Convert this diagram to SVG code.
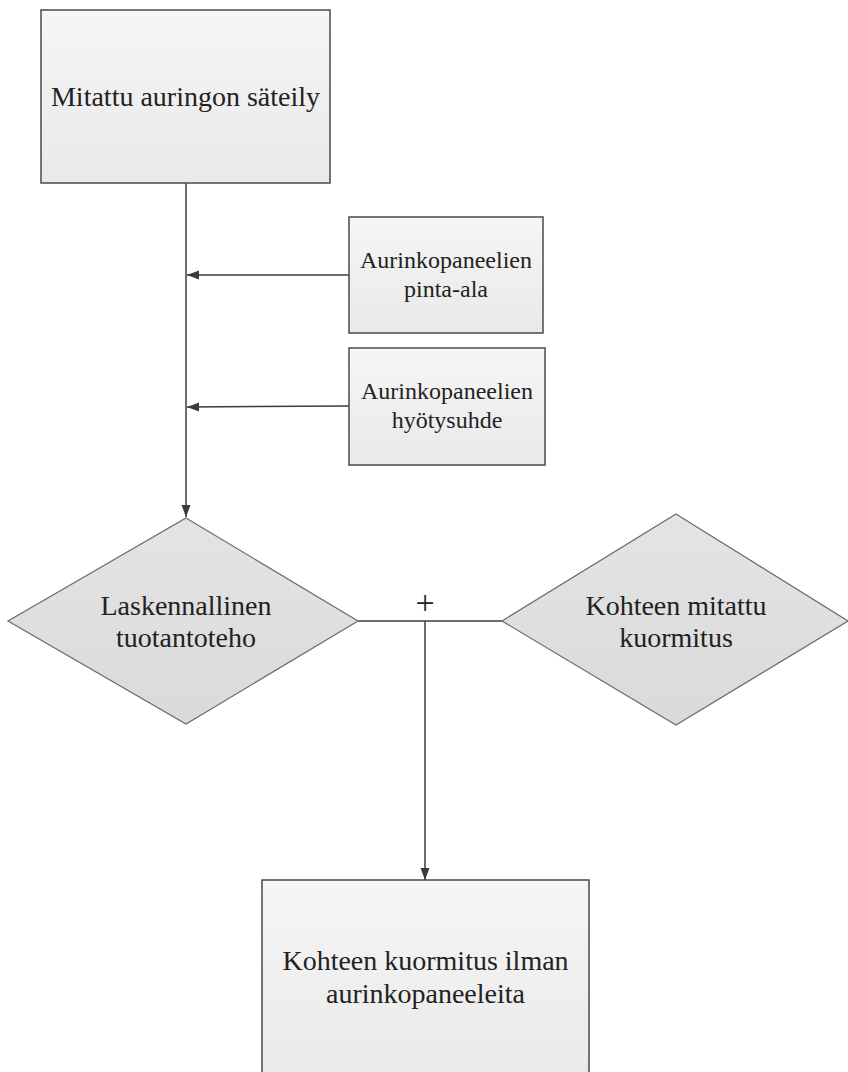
<svg xmlns="http://www.w3.org/2000/svg" width="848" height="1072" viewBox="0 0 848 1072">
<style>
.box{fill:url(#gbox);stroke:#4a4a4a;stroke-width:1.5}
.dia{fill:url(#gdia);stroke:#6a6a6a;stroke-width:1.2}
.t{font-family:"Liberation Serif","Times New Roman",serif;fill:#222;text-anchor:middle}
.conn{stroke:#3c3c3c;stroke-width:1.5;fill:none}
</style>
<defs>
<linearGradient id="gbox" x1="0" y1="0" x2="0" y2="1"><stop offset="0" stop-color="#f6f6f6"/><stop offset="1" stop-color="#e9e9e9"/></linearGradient>
<linearGradient id="gdia" x1="0" y1="0" x2="0" y2="1"><stop offset="0" stop-color="#e4e4e4"/><stop offset="1" stop-color="#dadada"/></linearGradient>
<marker id="arr" viewBox="0 0 12 10" refX="12" refY="5" markerWidth="12" markerHeight="10" markerUnits="userSpaceOnUse" orient="auto"><path d="M0,0.5 L12,5 L0,9.5 Z" fill="#3c3c3c"/></marker>
</defs>
<g id="connectors">
<line class="conn" x1="186" y1="183" x2="186" y2="517" marker-end="url(#arr)"/>
<line class="conn" x1="349" y1="275" x2="187" y2="275" marker-end="url(#arr)"/>
<line class="conn" x1="349" y1="406" x2="187" y2="407" marker-end="url(#arr)"/>
<line class="conn" x1="358" y1="621" x2="502" y2="621"/>
<line class="conn" x1="425" y1="621" x2="425" y2="880" marker-end="url(#arr)"/>
<text class="t" x="425" y="614" font-size="34">+</text>
</g>
<g id="n-saiteily">
<rect class="box" x="41" y="10" width="289" height="173"/>
<text class="t" x="185.5" y="106" font-size="28">Mitattu auringon säteily</text>
</g>
<g id="n-pinta-ala">
<rect class="box" x="349" y="217" width="194" height="116"/>
<text class="t" x="446" y="268" font-size="24">Aurinkopaneelien</text>
<text class="t" x="446" y="297" font-size="24">pinta-ala</text>
</g>
<g id="n-hyotysuhde">
<rect class="box" x="349" y="348" width="196" height="117"/>
<text class="t" x="447" y="399" font-size="24">Aurinkopaneelien</text>
<text class="t" x="447" y="428" font-size="24">hyötysuhde</text>
</g>
<g id="n-laskennallinen">
<polygon class="dia" points="186,518 358,621 186,724 8,621"/>
<text class="t" x="186" y="615" font-size="28">Laskennallinen</text>
<text class="t" x="186" y="647" font-size="28">tuotantoteho</text>
</g>
<g id="n-mitattu-kuormitus">
<polygon class="dia" points="676,514 848,621 676,725 502,621"/>
<text class="t" x="676" y="615" font-size="28">Kohteen mitattu</text>
<text class="t" x="676" y="647" font-size="28">kuormitus</text>
</g>
<g id="n-kuormitus-ilman">
<rect class="box" x="262" y="880" width="327" height="200"/>
<text class="t" x="425.5" y="970" font-size="28">Kohteen kuormitus ilman</text>
<text class="t" x="425.5" y="1003" font-size="28">aurinkopaneeleita</text>
</g>
</svg>
